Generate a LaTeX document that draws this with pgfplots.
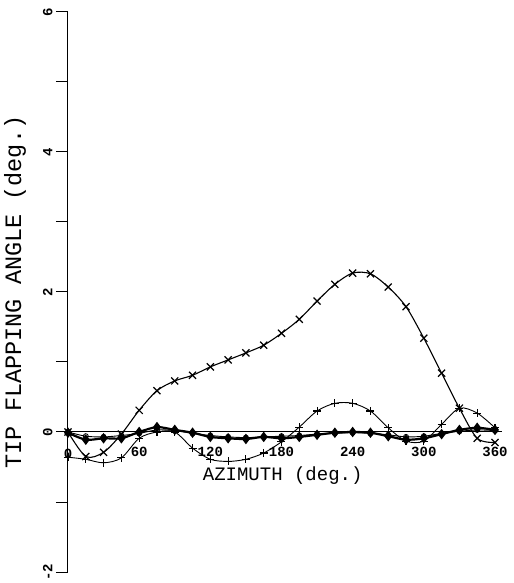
\documentclass[border=0pt]{standalone}
\usepackage{fontspec}
\setmainfont{Liberation Mono}
\usepackage{pgfplots}
\pgfplotsset{compat=1.18}
\begin{document}
\begin{tikzpicture}
\begin{axis}[
  scale only axis, width=434.1pt, height=560pt,
  xmin=0, xmax=366, ymin=-2, ymax=6,
  axis x line=middle, axis y line=left,
  axis line style={-, line width=1pt},
  hide obscured x ticks=false, hide obscured y ticks=false,
  xtick={60,120,...,360}, ytick={-2,0,2,4,6}, minor y tick num=1,
  extra x ticks={0}, extra x tick labels={0},
  extra x tick style={xticklabel style={font=\fontsize{14}{14}\selectfont\bfseries, anchor=north, yshift=-2pt, inner sep=1pt}},
  tick align=outside, major tick length=12pt, minor tick length=12pt,
  every tick/.style={black, line width=1pt},
  x tick style={draw=none},
  /pgf/number format/assume math mode=true,
  xticklabel style={font=\fontsize{14}{14}\selectfont\bfseries, anchor=north, yshift=-2pt, inner sep=1pt},
  yticklabel style={font=\fontsize{14}{14}\selectfont\bfseries, rotate=90, anchor=south},
  every axis x label/.style={at={(axis cs:181,0)}, anchor=center, yshift=-44pt, inner sep=0pt, font=\fontsize{19}{19}\selectfont},
  every axis y label/.style={at={([xshift=-53pt]axis description cs:0,0.5)}, rotate=90, anchor=center, font=\fontsize{23.5}{23.5}\selectfont},
  xlabel={AZIMUTH (deg.)}, ylabel={TIP FLAPPING ANGLE (deg.)},
  clip=false,
]
% big curve (x markers)
\addplot[black, line width=1.1pt, smooth, tension=0.5, mark=x, mark size=5pt, mark options={line width=1.2pt}] coordinates {
(0,0) (15,-0.35) (30,-0.29) (45,-0.03) (60,0.31) (75,0.59) (90,0.73) (105,0.81) (120,0.93) (135,1.03) (150,1.13) (165,1.24) (180,1.41) (195,1.61) (210,1.87) (225,2.11) (240,2.27) (255,2.26) (270,2.07) (285,1.79) (300,1.34) (315,0.84) (330,0.34) (345,-0.09) (360,-0.15)};
% + curve
\addplot[black, line width=0.9pt, smooth, tension=0.5, mark=+, mark size=4pt, mark options={line width=1.1pt}] coordinates {
(0,-0.36) (15,-0.39) (30,-0.44) (45,-0.37) (60,-0.09) (75,0.0) (90,0.0) (105,-0.23) (120,-0.39) (135,-0.42) (150,-0.39) (165,-0.30) (180,-0.14) (195,0.07) (210,0.30) (225,0.41) (240,0.41) (255,0.30) (270,0.06) (285,-0.13) (300,-0.13) (315,0.11) (330,0.34) (345,0.27) (360,0.06)};
% thick diamonds
\addplot[black, line width=2.2pt, smooth, tension=0.5, mark=diamond*, mark size=3.5pt] coordinates {
(0,-0.01) (15,-0.11) (30,-0.09) (45,-0.09) (60,0.0) (75,0.07) (90,0.03) (105,-0.01) (120,-0.07) (135,-0.09) (150,-0.10) (165,-0.07) (180,-0.09) (195,-0.07) (210,-0.04) (225,-0.01) (240,0.0) (255,-0.01) (270,-0.06) (285,-0.11) (300,-0.09) (315,-0.03) (330,0.03) (345,0.06) (360,0.03)};
% open circles
\addplot[black, line width=0.9pt, smooth, tension=0.5, mark=o, mark size=2.5pt, mark options={fill=white}] coordinates {
(0,0) (15,-0.06) (30,-0.07) (45,-0.05) (60,-0.02) (75,0.03) (90,0.02) (105,-0.02) (120,-0.05) (135,-0.07) (150,-0.08) (165,-0.07) (180,-0.06) (195,-0.05) (210,-0.03) (225,-0.02) (240,-0.01) (255,-0.02) (270,-0.04) (285,-0.07) (300,-0.06) (315,-0.02) (330,0.01) (345,0.03) (360,0.02)};
\end{axis}
\pgfresetboundingbox
\path ([xshift=-68pt,yshift=-11pt]current axis.south west) rectangle ([xshift=11pt,yshift=12pt]current axis.north east);
\end{tikzpicture}
\end{document}
